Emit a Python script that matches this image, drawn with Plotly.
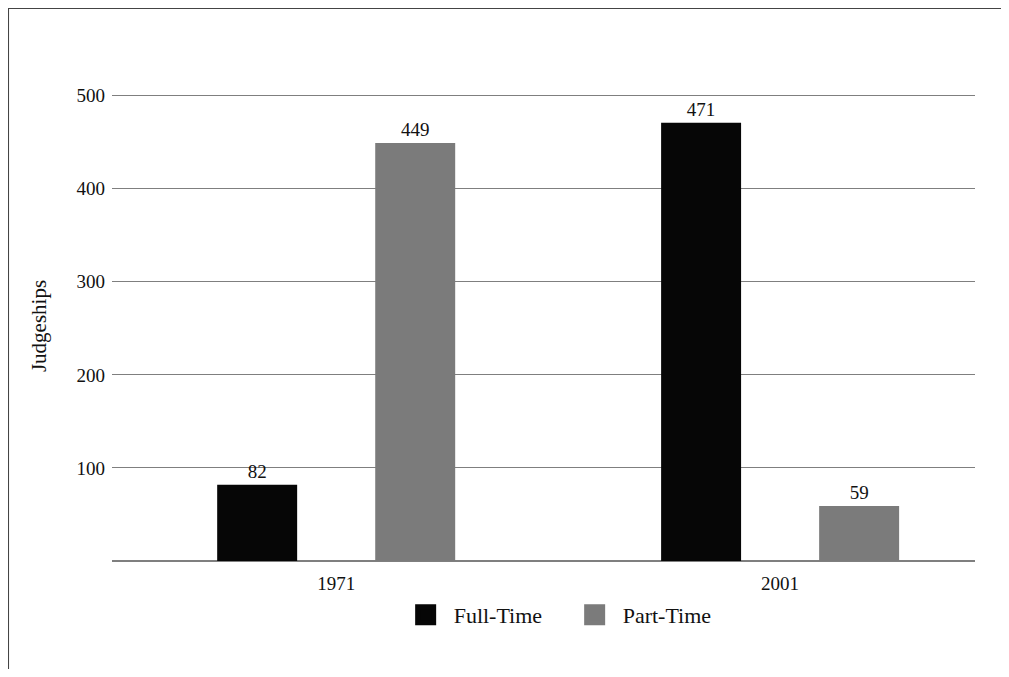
import plotly.graph_objects as go

years = ["1971", "2001"]
full_time = [82, 471]
part_time = [449, 59]
series_names = ["Full-Time", "Part-Time"]
y_ticks = [100, 200, 300, 400, 500]

FT_COLOR = "#060606"
PT_COLOR = "#7b7b7b"
FONT = "Liberation Serif"
GRID = "#7f7f7f"

fig = go.Figure()
for name, vals, col in [(series_names[0], full_time, FT_COLOR), (series_names[1], part_time, PT_COLOR)]:
    fig.add_trace(go.Bar(
        x=years, y=vals, name=name, marker=dict(color=col, line=dict(width=0)),
        text=[str(v) for v in vals], textposition="outside",
        textfont=dict(family=FONT, size=19, color="#111"),
        cliponaxis=False, showlegend=False,
    ))
# legend swatches (larger squares than bar legend icons)
for name, col in [(series_names[0], FT_COLOR), (series_names[1], PT_COLOR)]:
    fig.add_trace(go.Scatter(
        x=[None], y=[None], mode="markers", name=name,
        marker=dict(symbol="square", size=16, color=col, line=dict(color=col, width=5)),
        showlegend=True,
    ))

fig.update_layout(
    width=993, height=661,
    margin=dict(l=104, r=26, t=83, b=108),
    paper_bgcolor="white", plot_bgcolor="white",
    barmode="group", bargap=0.288, bargroupgap=0.494,
    font=dict(family=FONT, size=19, color="#111"),
    legend=dict(orientation="h", x=0.331, xanchor="left", y=-0.115, yanchor="middle",
                font=dict(family=FONT, size=22, color="#111"), itemsizing="trace",
                itemwidth=46, entrywidth=108, entrywidthmode="pixels",
                bgcolor="rgba(0,0,0,0)"),
    xaxis=dict(type="category", range=[-0.505, 1.439], showgrid=False, showline=False,
               zeroline=False, ticks="", ticklabelstandoff=9,
               tickfont=dict(family=FONT, size=19, color="#111")),
    yaxis=dict(range=[0, 505], tickvals=y_ticks, ticktext=[str(t) for t in y_ticks],
               showgrid=True, gridcolor=GRID, gridwidth=1,
               zeroline=True, zerolinecolor=GRID, zerolinewidth=1.5,
               showline=False, ticks="", ticklabelstandoff=6,
               tickfont=dict(family=FONT, size=19, color="#111")),
    shapes=[dict(type="rect", xref="paper", yref="paper",
                 x0=-0.12, x1=1.2, y0=-0.4, y1=1.1756,
                 line=dict(color="#444", width=1.2), fillcolor="rgba(0,0,0,0)", layer="below")],
)
fig.update_yaxes(title=dict(text="Judgeships", font=dict(family=FONT, size=21, color="#111"), standoff=24))

fig.write_html("out.html")
